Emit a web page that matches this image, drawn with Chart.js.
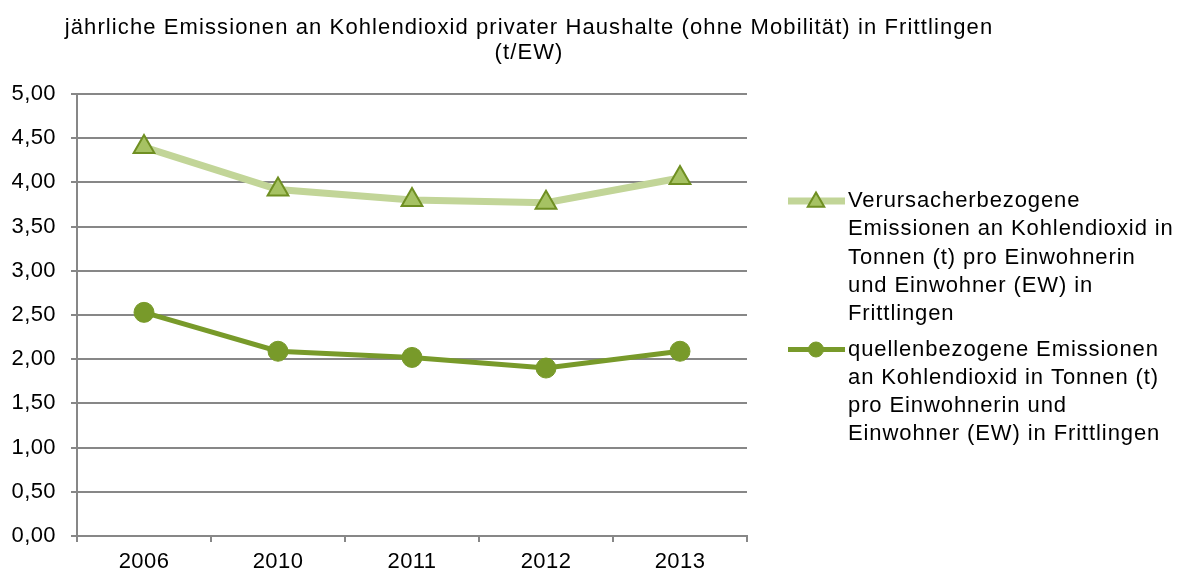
<!DOCTYPE html>
<html>
<head>
<meta charset="utf-8">
<script src="https://cdn.jsdelivr.net/npm/chart.js@4/dist/chart.umd.min.js"></script>
<style>
html,body{margin:0;padding:0;background:#fff;}
#wrap{position:relative;width:1181px;height:573px;}
</style>
</head>
<body>
<div id="wrap"><canvas id="c"></canvas></div>
<script>
const categories = ['2006', '2010', '2011', '2012', '2013'];
const verursacherValues = [4.40, 3.92, 3.80, 3.77, 4.05];
const quellenValues = [2.53, 2.09, 2.02, 1.90, 2.09];
const titleLines = ['jährliche Emissionen an Kohlendioxid privater Haushalte (ohne Mobilität) in Frittlingen', '(t/EW)'];
const verursacherLabel = ['Verursacherbezogene', 'Emissionen an Kohlendioxid in', 'Tonnen (t) pro Einwohnerin', 'und Einwohner (EW) in', 'Frittlingen'];
const quellenLabel = ['quellenbezogene Emissionen', 'an Kohlendioxid in Tonnen (t)', 'pro Einwohnerin und', 'Einwohner (EW) in Frittlingen'];

const FONT = '"Liberation Sans", Arial, sans-serif';
const FS = 22;
const GRID = '#878787';

function setSpacing(ctx, px) { try { ctx.letterSpacing = px + 'px'; } catch (e) {} }

const textPlugin = {
  id: 'textPlugin',
  beforeDraw(chart) { setSpacing(chart.ctx, 0.4); },
  afterDraw(chart) {
    const ctx = chart.ctx;
    ctx.save();
    ctx.fillStyle = '#000';
    ctx.textBaseline = 'middle';
    ctx.textAlign = 'center';
    ctx.font = FS + 'px ' + FONT;
    setSpacing(ctx, 1.1);
    titleLines.forEach((t, i) => ctx.fillText(t, 529, 28 + i * 25));
    setSpacing(ctx, 0.9);
    ctx.textAlign = 'left';
    const entries = [
      { ds: chart.data.datasets[0], y0: 201 },
      { ds: chart.data.datasets[1], y0: 349.5 }
    ];
    entries.forEach(({ ds, y0 }) => {
      ctx.save();
      ctx.strokeStyle = ds.borderColor;
      ctx.lineWidth = ds.borderWidth;
      ctx.lineCap = 'butt';
      ctx.beginPath();
      ctx.moveTo(788, y0);
      ctx.lineTo(845, y0);
      ctx.stroke();
      ctx.fillStyle = ds.pointBackgroundColor;
      ctx.strokeStyle = ds.pointBorderColor;
      ctx.lineWidth = ds.pointBorderWidth;
      Chart.helpers.drawPoint(ctx, {
        pointStyle: ds.pointStyle,
        radius: ds.pointStyle === 'triangle' ? 9.5 : 7.5,
        borderWidth: ds.pointBorderWidth,
        rotation: 0
      }, 816, y0 + (ds.pointStyle === 'triangle' ? 1 : 0));
      ctx.restore();
      ds.label.forEach((line, i) => ctx.fillText(line, 848, y0 + i * 28.3));
    });
    ctx.restore();
  }
};

new Chart(document.getElementById('c'), {
  type: 'line',
  data: {
    labels: categories,
    datasets: [
      {
        label: verursacherLabel,
        data: verursacherValues,
        borderColor: '#C2D598',
        borderWidth: 7,
        pointStyle: 'triangle',
        pointRadius: 12,
        pointHoverRadius: 12,
        pointBackgroundColor: '#A6C263',
        pointBorderColor: '#6F8F22',
        pointBorderWidth: 2,
        tension: 0
      },
      {
        label: quellenLabel,
        data: quellenValues,
        borderColor: '#789A2A',
        borderWidth: 5,
        pointStyle: 'circle',
        pointRadius: 10,
        pointHoverRadius: 10,
        pointBackgroundColor: '#789A2A',
        pointBorderColor: '#789A2A',
        pointBorderWidth: 1,
        tension: 0
      }
    ]
  },
  options: {
    responsive: true,
    maintainAspectRatio: false,
    animation: false,
    events: [],
    layout: { padding: { top: 94, right: 434, left: 0, bottom: 0 } },
    plugins: { legend: { display: false }, title: { display: false }, tooltip: { enabled: false } },
    scales: {
      x: {
        type: 'category',
        offset: true,
        afterFit(s) { s.height = 37; },
        grid: { display: true, drawOnChartArea: false, drawTicks: true, tickLength: 6, color: GRID, lineWidth: 2, offset: true },
        border: { display: true, color: GRID, width: 2 },
        ticks: { color: '#000', font: { family: FONT, size: FS }, padding: 7, maxRotation: 0, autoSkip: false }
      },
      y: {
        min: 0,
        max: 5,
        afterFit(s) { s.width = 77; },
        grid: { color: GRID, lineWidth: 2, tickLength: 6, drawTicks: true },
        border: { display: true, color: GRID, width: 2 },
        ticks: {
          stepSize: 0.5,
          color: '#000',
          font: { family: FONT, size: FS },
          padding: 15,
          callback: v => v.toFixed(2).replace('.', ',')
        }
      }
    }
  },
  plugins: [textPlugin]
});
</script>
</body>
</html>
